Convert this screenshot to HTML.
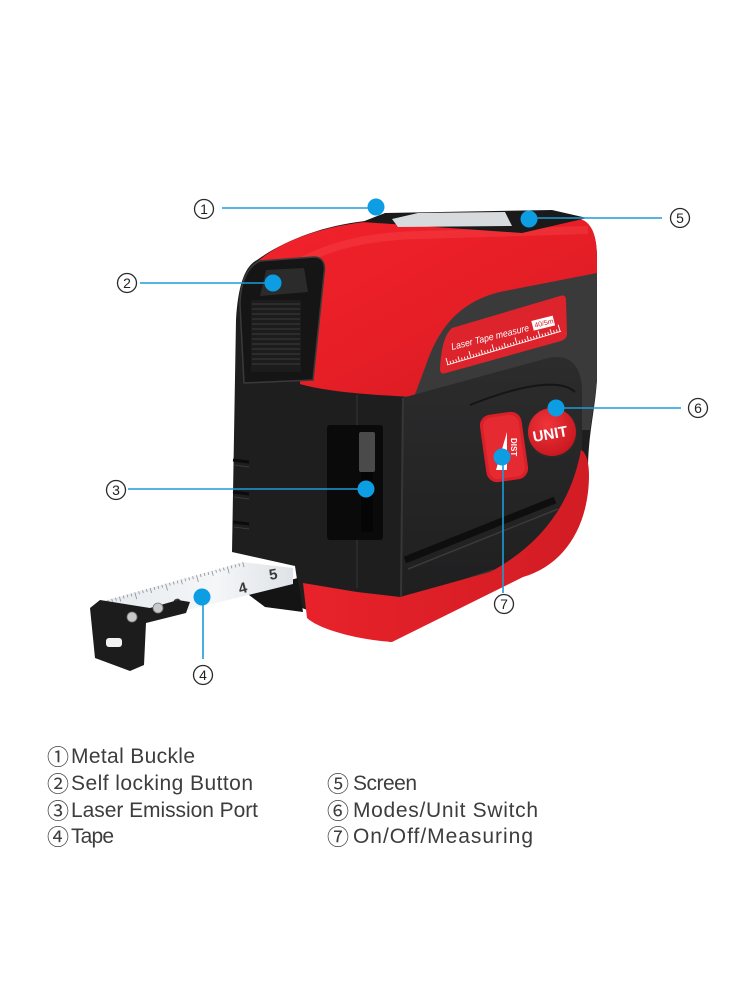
<!DOCTYPE html>
<html>
<head>
<meta charset="utf-8">
<style>
html,body{margin:0;padding:0;background:#fff;}
body{width:750px;height:1000px;overflow:hidden;position:relative;}
svg{position:absolute;left:0;top:0;}
</style>
</head>
<body>
<svg width="750" height="1000" viewBox="0 0 750 1000" xmlns="http://www.w3.org/2000/svg">
<defs>
  <linearGradient id="redShell" x1="0" y1="0" x2="1" y2="1">
    <stop offset="0" stop-color="#f2222b"/>
    <stop offset="0.55" stop-color="#e61e26"/>
    <stop offset="1" stop-color="#cf1a22"/>
  </linearGradient>
  <linearGradient id="redBot" x1="0" y1="0" x2="1" y2="0">
    <stop offset="0" stop-color="#e8222a"/>
    <stop offset="1" stop-color="#d21c24"/>
  </linearGradient>
  <linearGradient id="panel" x1="0" y1="0" x2="0" y2="1">
    <stop offset="0" stop-color="#2c2c2d"/>
    <stop offset="1" stop-color="#1f1f20"/>
  </linearGradient>
  <linearGradient id="tapeG" x1="0" y1="0" x2="1" y2="0">
    <stop offset="0" stop-color="#e6eaee"/>
    <stop offset="0.6" stop-color="#f4f6f8"/>
    <stop offset="1" stop-color="#dfe3e7"/>
  </linearGradient>
  <radialGradient id="unitG" cx="0.4" cy="0.35" r="0.7">
    <stop offset="0" stop-color="#f0343b"/>
    <stop offset="1" stop-color="#c8161e"/>
  </radialGradient>
</defs>

<!-- black silhouette -->
<path d="M257,260 C245,266 238,285 236,320 L232,552 L295,566 L300,600 L302,608 L390,642 L523,576 C565,560 586,525 588,465 C589,430 595,410 597,380 L597,258 C597,232 590,220 575,218 L365,221 C320,226 282,242 257,260 Z" fill="#1e1e1f"/>
<!-- under-tape black -->
<path d="M245,592 L298,578 L303,612 L265,607 Z" fill="#141414"/>

<!-- dark band on front -->
<path d="M404,398 C418,345 440,305 500,292 L597,272 L597,380 C595,400 592,415 590,430 L404,430 Z" fill="#3a3a3b"/>

<!-- red shell -->
<path d="M257,262 C282,240 322,227 365,222 L575,218 C590,219 597,232 597,258 L597,273 L500,292 C458,302 438,330 426,365 L414,397 C372,395 328,392 300,384 L300,300 Z" fill="url(#redShell)"/>
<path d="M300,262 C335,243 375,236 420,235 L588,230" stroke="#ff5a60" stroke-width="8" fill="none" opacity="0.25"/>

<!-- label -->
<path d="M452,328 L560,296 Q566,294 566,300 L567,334 Q567,339 561,341 L446,373 Q440,375 440,369 C441,350 444,335 452,328 Z" fill="#dd242c"/>
<g transform="translate(452,350) rotate(-14)">
  <text x="0" y="0" font-family="Liberation Sans, sans-serif" font-style="italic" font-size="9.5" fill="#fff" textLength="80" lengthAdjust="spacingAndGlyphs">Laser Tape measure</text>
  <rect x="84" y="-9" width="22" height="10" fill="#fff"/>
  <text x="86" y="-1.5" font-family="Liberation Sans, sans-serif" font-size="7" fill="#d0222a">40/5m</text>
</g>
<g transform="translate(447,365) rotate(-16.5)" stroke="#fff" stroke-width="0.9">
  <line x1="0" y1="0" x2="119" y2="0"/>
  <line x1="1" y1="0" x2="1" y2="-7"/><line x1="4" y1="0" x2="4" y2="-3"/><line x1="7" y1="0" x2="7" y2="-3"/><line x1="10" y1="0" x2="10" y2="-3"/><line x1="13" y1="0" x2="13" y2="-5"/><line x1="16" y1="0" x2="16" y2="-3"/><line x1="19" y1="0" x2="19" y2="-3"/><line x1="22" y1="0" x2="22" y2="-3"/><line x1="25" y1="0" x2="25" y2="-7"/><line x1="28" y1="0" x2="28" y2="-3"/><line x1="31" y1="0" x2="31" y2="-3"/><line x1="34" y1="0" x2="34" y2="-3"/><line x1="37" y1="0" x2="37" y2="-5"/><line x1="40" y1="0" x2="40" y2="-3"/><line x1="43" y1="0" x2="43" y2="-3"/><line x1="46" y1="0" x2="46" y2="-3"/><line x1="49" y1="0" x2="49" y2="-7"/><line x1="52" y1="0" x2="52" y2="-3"/><line x1="55" y1="0" x2="55" y2="-3"/><line x1="58" y1="0" x2="58" y2="-3"/><line x1="61" y1="0" x2="61" y2="-5"/><line x1="64" y1="0" x2="64" y2="-3"/><line x1="67" y1="0" x2="67" y2="-3"/><line x1="70" y1="0" x2="70" y2="-3"/><line x1="73" y1="0" x2="73" y2="-7"/><line x1="76" y1="0" x2="76" y2="-3"/><line x1="79" y1="0" x2="79" y2="-3"/><line x1="82" y1="0" x2="82" y2="-3"/><line x1="85" y1="0" x2="85" y2="-5"/><line x1="88" y1="0" x2="88" y2="-3"/><line x1="91" y1="0" x2="91" y2="-3"/><line x1="94" y1="0" x2="94" y2="-3"/><line x1="97" y1="0" x2="97" y2="-7"/><line x1="100" y1="0" x2="100" y2="-3"/><line x1="103" y1="0" x2="103" y2="-3"/><line x1="106" y1="0" x2="106" y2="-3"/><line x1="109" y1="0" x2="109" y2="-5"/><line x1="112" y1="0" x2="112" y2="-3"/><line x1="115" y1="0" x2="115" y2="-3"/><line x1="118" y1="0" x2="118" y2="-7"/>
</g>

<!-- front black panel -->
<path d="M402,398 L548,358 C572,353 582,368 582,392 L582,455 C578,495 560,520 530,545 C515,558 500,566 490,572 L400,597 Z" fill="url(#panel)"/>
<path d="M470,405 C520,385 560,378 575,392" stroke="#151515" stroke-width="2" fill="none"/>
<path d="M405,560 L555,500" stroke="#0e0e0e" stroke-width="7"/>
<path d="M408,569 L558,509" stroke="#3a3a3a" stroke-width="1.5"/>
<path d="M440,590 L492,572" stroke="#333" stroke-width="5" stroke-linecap="round"/>

<!-- red bottom trim -->
<path d="M303,583 L357,592 L400,597 L490,572 C535,548 570,510 581,450 C586,452 589,462 589,475 C589,525 565,565 523,577 L392,642 C360,640 320,630 307,618 Z" fill="url(#redBot)"/>

<!-- edges on left face -->
<line x1="357" y1="395" x2="357" y2="588" stroke="#2e2e2e" stroke-width="1.5"/>
<line x1="403" y1="398" x2="401" y2="597" stroke="#363636" stroke-width="2"/>

<!-- laser window -->
<rect x="327" y="425" width="56" height="115" rx="3" fill="#0a0a0a"/>
<rect x="359" y="432" width="16" height="40" rx="2" fill="#4a4a4a"/>
<rect x="361" y="472" width="12" height="60" fill="#050505"/>

<!-- grip notches -->
<g stroke="#0b0b0b" stroke-width="3">
  <line x1="233" y1="460" x2="249" y2="462"/>
  <line x1="233" y1="492" x2="249" y2="494"/>
  <line x1="233" y1="522" x2="249" y2="524"/>
</g>
<g stroke="#3a3a3a" stroke-width="1">
  <line x1="234" y1="465" x2="249" y2="467"/>
  <line x1="234" y1="497" x2="249" y2="499"/>
  <line x1="234" y1="527" x2="249" y2="529"/>
</g>

<!-- button housing -->
<path d="M260,261 L314,257 C322,257 326,263 324,274 L313,380 L244,383 L240,305 C240,282 248,266 260,261 Z" fill="#151515" stroke="#3a3a3a" stroke-width="1.5"/>
<path d="M266,270 L304,268 L308,292 L260,296 Z" fill="#2b2b2b"/>
<rect x="251" y="300" width="50" height="72" fill="#1c1c1c"/>
<g stroke="#3b3b3b" stroke-width="1">
  <line x1="252" y1="304" x2="300" y2="304"/><line x1="252" y1="309" x2="300" y2="309"/><line x1="252" y1="314" x2="300" y2="314"/><line x1="252" y1="319" x2="300" y2="319"/><line x1="252" y1="324" x2="300" y2="324"/><line x1="252" y1="329" x2="300" y2="329"/><line x1="252" y1="334" x2="300" y2="334"/><line x1="252" y1="339" x2="300" y2="339"/><line x1="252" y1="344" x2="300" y2="344"/><line x1="252" y1="349" x2="300" y2="349"/><line x1="252" y1="354" x2="300" y2="354"/><line x1="252" y1="359" x2="300" y2="359"/><line x1="252" y1="364" x2="300" y2="364"/>
</g>

<!-- screen on top -->
<path d="M362,222 L385,213 L552,210 L587,218 L522,233 Z" fill="#1a1a1a"/>
<path d="M392,219 L418,213 L505,212 L512,226 L398,227 Z" fill="#d7dbde"/>

<!-- DIST button -->
<g transform="rotate(-8 504 447)">
  <rect x="483" y="413" width="42" height="68" rx="11" fill="#d91f27"/>
  <rect x="486" y="416" width="36" height="62" rx="9" fill="#e52a31"/>
</g>
<path d="M507,432 L507,470 L496,470 Z" fill="#fff"/>
<text transform="translate(511,438) rotate(90)" font-family="Liberation Sans, sans-serif" font-weight="bold" font-size="8" fill="#fff">DIST</text>

<!-- UNIT button -->
<circle cx="552" cy="432" r="26" fill="#2a2a2a"/>
<circle cx="552" cy="432" r="24" fill="url(#unitG)"/>
<text transform="translate(551,439) rotate(-10)" text-anchor="middle" font-family="Liberation Sans, sans-serif" font-weight="bold" font-size="15" fill="#fff">UNIT</text>

<!-- tape -->
<path d="M100,602 L243,562 L293,568 L293,584 L143,621 L104,613 Z" fill="url(#tapeG)"/>
<g transform="translate(104,601) rotate(-15.6)" stroke="#8a8f94" stroke-width="0.8">
  <line x1="0" y1="0" x2="0" y2="5"/><line x1="4" y1="0" x2="4" y2="3"/><line x1="8" y1="0" x2="8" y2="3"/><line x1="12" y1="0" x2="12" y2="3"/><line x1="16" y1="0" x2="16" y2="5"/><line x1="20" y1="0" x2="20" y2="3"/><line x1="24" y1="0" x2="24" y2="3"/><line x1="28" y1="0" x2="28" y2="3"/><line x1="32" y1="0" x2="32" y2="7"/><line x1="36" y1="0" x2="36" y2="3"/><line x1="40" y1="0" x2="40" y2="3"/><line x1="44" y1="0" x2="44" y2="3"/><line x1="48" y1="0" x2="48" y2="5"/><line x1="52" y1="0" x2="52" y2="3"/><line x1="56" y1="0" x2="56" y2="3"/><line x1="60" y1="0" x2="60" y2="3"/><line x1="64" y1="0" x2="64" y2="7"/><line x1="68" y1="0" x2="68" y2="3"/><line x1="72" y1="0" x2="72" y2="3"/><line x1="76" y1="0" x2="76" y2="3"/><line x1="80" y1="0" x2="80" y2="5"/><line x1="84" y1="0" x2="84" y2="3"/><line x1="88" y1="0" x2="88" y2="3"/><line x1="92" y1="0" x2="92" y2="3"/><line x1="96" y1="0" x2="96" y2="7"/><line x1="100" y1="0" x2="100" y2="3"/><line x1="104" y1="0" x2="104" y2="3"/><line x1="108" y1="0" x2="108" y2="3"/><line x1="112" y1="0" x2="112" y2="5"/><line x1="116" y1="0" x2="116" y2="3"/><line x1="120" y1="0" x2="120" y2="3"/><line x1="124" y1="0" x2="124" y2="3"/><line x1="128" y1="0" x2="128" y2="7"/><line x1="132" y1="0" x2="132" y2="3"/><line x1="136" y1="0" x2="136" y2="3"/><line x1="140" y1="0" x2="140" y2="3"/><line x1="144" y1="0" x2="144" y2="5"/>
</g>
<g font-family="Liberation Sans, sans-serif" font-weight="bold" font-size="15" fill="#3a3a3a">
  <text transform="translate(175,610) rotate(-15)">3</text>
  <text transform="translate(240,594) rotate(-15)">4</text>
  <text transform="translate(270,580) rotate(-10)">5</text>
</g>

<!-- hook -->
<path d="M90,608 L100,600 L150,608 L178,600 L190,602 L186,613 L146,623 L144,665 L130,671 L95,658 Z" fill="#1c1c1c"/>
<rect x="106" y="638" width="16" height="9" rx="3" fill="#f2f2f2"/>
<circle cx="132" cy="617" r="5" fill="#c9c9c9" stroke="#777" stroke-width="0.8"/>
<circle cx="158" cy="608" r="5" fill="#c9c9c9" stroke="#777" stroke-width="0.8"/>

<!-- callouts -->
<g stroke="#1e9ad8" stroke-width="1.6" fill="none">
  <line x1="222" y1="208" x2="376" y2="208"/>
  <line x1="529" y1="218" x2="662" y2="218"/>
  <line x1="140" y1="283" x2="273" y2="283"/>
  <line x1="128" y1="489" x2="366" y2="489"/>
  <line x1="556" y1="408" x2="681" y2="408"/>
  <line x1="503" y1="458" x2="503" y2="593"/>
  <line x1="203" y1="597" x2="203" y2="659"/>
</g>
<g fill="#0c9de3">
  <circle cx="376" cy="207" r="8.5"/>
  <circle cx="529" cy="219" r="8.5"/>
  <circle cx="273" cy="283" r="8.5"/>
  <circle cx="366" cy="489" r="8.5"/>
  <circle cx="556" cy="408" r="8.5"/>
  <circle cx="502" cy="457" r="8.5"/>
  <circle cx="202" cy="597" r="8.5"/>
</g>
<g fill="none" stroke="#2a2a2a" stroke-width="1.3">
  <circle cx="204" cy="209" r="9.5"/>
  <circle cx="680" cy="218" r="9.5"/>
  <circle cx="127" cy="283" r="9.5"/>
  <circle cx="116" cy="490" r="9.5"/>
  <circle cx="698" cy="408" r="9.5"/>
  <circle cx="504" cy="604" r="9.5"/>
  <circle cx="203" cy="675" r="9.5"/>
</g>
<g font-family="Liberation Sans, sans-serif" font-size="14" fill="#222" text-anchor="middle">
  <text x="204" y="214">1</text>
  <text x="680" y="223">5</text>
  <text x="127" y="288">2</text>
  <text x="116" y="495">3</text>
  <text x="698" y="413">6</text>
  <text x="504" y="609">7</text>
  <text x="203" y="680">4</text>
</g>

<!-- legend -->
<g font-family="Noto Sans CJK JP, sans-serif" font-size="22" fill="#3d3d3d">
  <text x="47" y="765">①</text>
  <text x="47" y="792">②</text>
  <text x="47" y="819">③</text>
  <text x="47" y="845">④</text>
  <text x="327" y="792">⑤</text>
  <text x="327" y="819">⑥</text>
  <text x="327" y="845">⑦</text>
</g>
<g font-family="Liberation Sans, sans-serif" font-size="21" fill="#3d3d3d">
  <text x="71" y="763" textLength="124" lengthAdjust="spacing">Metal Buckle</text>
  <text x="71" y="790" textLength="182" lengthAdjust="spacing">Self locking Button</text>
  <text x="71" y="817" textLength="187" lengthAdjust="spacing">Laser Emission Port</text>
  <text x="71" y="843" textLength="43" lengthAdjust="spacing">Tape</text>
  <text x="353" y="790" textLength="64" lengthAdjust="spacing">Screen</text>
  <text x="353" y="817" textLength="185" lengthAdjust="spacing">Modes/Unit Switch</text>
  <text x="353" y="843" textLength="180" lengthAdjust="spacing">On/Off/Measuring</text>
</g>
</svg>
</body>
</html>
